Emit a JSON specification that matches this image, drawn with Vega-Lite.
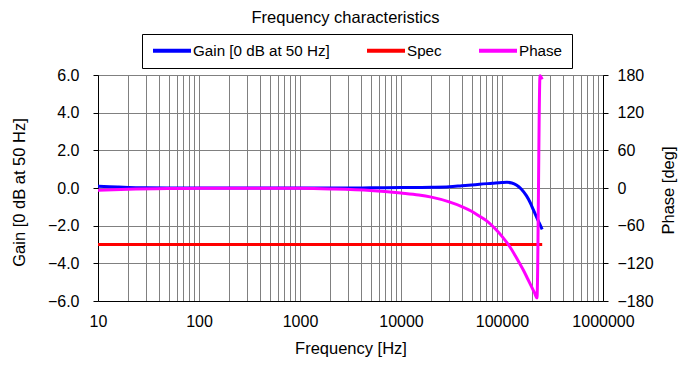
{
  "$schema": "https://vega.github.io/schema/vega-lite/v6.json",
  "width": 505,
  "height": 226,
  "autosize": {"type": "none"},
  "padding": {"left": 98, "top": 75, "right": 85, "bottom": 64},
  "background": "#ffffff",
  "title": {
    "text": "Frequency characteristics",
    "fontSize": 16.5,
    "fontWeight": "normal",
    "font": "Liberation Sans",
    "color": "#000000",
    "anchor": "middle",
    "baseline": "alphabetic",
    "offset": -6,
    "dx": -5
  },
  "data": {
    "values": [
      {"f": 10, "s": "Gain [0 dB at 50 Hz]", "v": 0.10},
      {"f": 13, "s": "Gain [0 dB at 50 Hz]", "v": 0.07},
      {"f": 16, "s": "Gain [0 dB at 50 Hz]", "v": 0.05},
      {"f": 20, "s": "Gain [0 dB at 50 Hz]", "v": 0.03},
      {"f": 30, "s": "Gain [0 dB at 50 Hz]", "v": 0.01},
      {"f": 50, "s": "Gain [0 dB at 50 Hz]", "v": 0.0},
      {"f": 100, "s": "Gain [0 dB at 50 Hz]", "v": 0.0},
      {"f": 300, "s": "Gain [0 dB at 50 Hz]", "v": 0.0},
      {"f": 1000, "s": "Gain [0 dB at 50 Hz]", "v": 0.0},
      {"f": 3000, "s": "Gain [0 dB at 50 Hz]", "v": 0.0},
      {"f": 5000, "s": "Gain [0 dB at 50 Hz]", "v": 0.01},
      {"f": 10000, "s": "Gain [0 dB at 50 Hz]", "v": 0.02},
      {"f": 20000, "s": "Gain [0 dB at 50 Hz]", "v": 0.04},
      {"f": 30000, "s": "Gain [0 dB at 50 Hz]", "v": 0.07},
      {"f": 40000, "s": "Gain [0 dB at 50 Hz]", "v": 0.12},
      {"f": 50000, "s": "Gain [0 dB at 50 Hz]", "v": 0.16},
      {"f": 60000, "s": "Gain [0 dB at 50 Hz]", "v": 0.20},
      {"f": 80000, "s": "Gain [0 dB at 50 Hz]", "v": 0.25},
      {"f": 100000, "s": "Gain [0 dB at 50 Hz]", "v": 0.29},
      {"f": 112000, "s": "Gain [0 dB at 50 Hz]", "v": 0.30},
      {"f": 125000, "s": "Gain [0 dB at 50 Hz]", "v": 0.27},
      {"f": 140000, "s": "Gain [0 dB at 50 Hz]", "v": 0.15},
      {"f": 155000, "s": "Gain [0 dB at 50 Hz]", "v": -0.05},
      {"f": 175000, "s": "Gain [0 dB at 50 Hz]", "v": -0.42},
      {"f": 190000, "s": "Gain [0 dB at 50 Hz]", "v": -0.77},
      {"f": 204000, "s": "Gain [0 dB at 50 Hz]", "v": -1.15},
      {"f": 220000, "s": "Gain [0 dB at 50 Hz]", "v": -1.55},
      {"f": 235000, "s": "Gain [0 dB at 50 Hz]", "v": -1.88},
      {"f": 250000, "s": "Gain [0 dB at 50 Hz]", "v": -2.2},
      {"f": 10, "s": "Spec", "v": -3},
      {"f": 250000, "s": "Spec", "v": -3},
      {"f": 10, "s": "Phase", "v": -3.5},
      {"f": 20, "s": "Phase", "v": -1.8},
      {"f": 50, "s": "Phase", "v": -0.8},
      {"f": 100, "s": "Phase", "v": -0.5},
      {"f": 200, "s": "Phase", "v": -0.3},
      {"f": 500, "s": "Phase", "v": -0.3},
      {"f": 1000, "s": "Phase", "v": -0.5},
      {"f": 2000, "s": "Phase", "v": -1.5},
      {"f": 5000, "s": "Phase", "v": -4},
      {"f": 10000, "s": "Phase", "v": -8},
      {"f": 15000, "s": "Phase", "v": -11},
      {"f": 20000, "s": "Phase", "v": -14.5},
      {"f": 30000, "s": "Phase", "v": -22},
      {"f": 40000, "s": "Phase", "v": -29.5},
      {"f": 50000, "s": "Phase", "v": -37},
      {"f": 60000, "s": "Phase", "v": -45},
      {"f": 70000, "s": "Phase", "v": -52},
      {"f": 88000, "s": "Phase", "v": -67},
      {"f": 100000, "s": "Phase", "v": -77},
      {"f": 120000, "s": "Phase", "v": -94},
      {"f": 140000, "s": "Phase", "v": -112},
      {"f": 163000, "s": "Phase", "v": -131},
      {"f": 180000, "s": "Phase", "v": -145},
      {"f": 197000, "s": "Phase", "v": -158},
      {"f": 210000, "s": "Phase", "v": -167},
      {"f": 222000, "s": "Phase", "v": -175},
      {"f": 238000, "s": "Phase", "v": 179},
      {"f": 250000, "s": "Phase", "v": 173}
    ]
  },
  "encoding": {
    "x": {
      "field": "f",
      "type": "quantitative",
      "scale": {"type": "log", "domain": [10, 1000000], "nice": false},
      "axis": {
        "title": "Frequency [Hz]",
        "values": [10, 20, 30, 40, 50, 60, 70, 80, 90,
                   100, 200, 300, 400, 500, 600, 700, 800, 900,
                   1000, 2000, 3000, 4000, 5000, 6000, 7000, 8000, 9000,
                   10000, 20000, 30000, 40000, 50000, 60000, 70000, 80000, 90000,
                   100000, 200000, 300000, 400000, 500000, 600000, 700000, 800000, 900000,
                   1000000],
        "labelExpr": "indexof([10, 100, 1000, 10000, 100000, 1000000], datum.value) >= 0 ? format(datum.value, 'd') : ''",
        "grid": true,
        "gridColor": "#000000",
        "gridDash": [1, 1],
        "gridWidth": 1,
        "ticks": false,
        "domainColor": "#000000",
        "labelPadding": 12,
        "labelFlush": false,
        "labelOverlap": false,
        "labelBound": false,
        "titleY": 52,
        "titleBaseline": "alphabetic"
      }
    }
  },
  "layer": [
    {
      "transform": [{"filter": "datum.s !== 'Phase'"}],
      "mark": {"type": "line", "strokeWidth": 3, "interpolate": "monotone"},
      "encoding": {
        "y": {
          "field": "v",
          "type": "quantitative",
          "scale": {"domain": [-6, 6], "nice": false, "zero": false},
          "axis": {
            "orient": "left",
            "title": "Gain [0 dB at 50 Hz]",
            "values": [-6, -4, -2, 0, 2, 4, 6],
            "format": ".1f",
            "grid": true,
            "gridColor": "#808080",
            "tickSize": 5,
            "tickColor": "#000000",
            "domainColor": "#000000",
            "labelPadding": 14,
            "titleAngle": -90,
            "titleAlign": "center",
            "titleBaseline": "alphabetic",
            "titleX": -73.5,
            "titleY": 117
          }
        },
        "color": {
          "field": "s",
          "type": "nominal",
          "scale": {
            "domain": ["Gain [0 dB at 50 Hz]", "Spec", "Phase"],
            "range": ["#0000ff", "#ff0000", "#ff00ff"]
          },
          "legend": {
            "orient": "none",
            "legendX": 44,
            "legendY": -41,
            "direction": "horizontal",
            "title": null,
            "symbolType": "stroke",
            "symbolSize": 1444,
            "symbolStrokeWidth": 4,
            "clipHeight": 15,
            "padding": 9,
            "columnPadding": 35,
            "labelOffset": 0,
            "labelFontSize": 15.2,
            "labelFont": "Liberation Sans",
            "labelColor": "#000000",
            "strokeColor": "#000000",
            "fillColor": "#ffffff"
          }
        }
      }
    },
    {
      "transform": [{"filter": "datum.s === 'Phase'"}],
      "mark": {"type": "line", "strokeWidth": 3, "interpolate": "monotone"},
      "encoding": {
        "y": {
          "field": "v",
          "type": "quantitative",
          "scale": {"domain": [-180, 180], "nice": false, "zero": false},
          "axis": {
            "orient": "right",
            "title": "Phase [deg]",
            "values": [-180, -120, -60, 0, 60, 120, 180],
            "format": "d",
            "grid": false,
            "tickSize": 5,
            "tickColor": "#000000",
            "domainColor": "#000000",
            "labelPadding": 9,
            "titleAngle": -90,
            "titleAlign": "center",
            "titleBaseline": "alphabetic",
            "titleX": 70,
            "titleY": 115
          }
        },
        "color": {"field": "s", "type": "nominal"}
      }
    }
  ],
  "resolve": {"scale": {"y": "independent"}},
  "config": {
    "font": "Liberation Sans",
    "view": {"stroke": null},
    "axis": {
      "labelFont": "Liberation Sans",
      "labelFontSize": 16,
      "labelColor": "#000000",
      "titleFont": "Liberation Sans",
      "titleFontSize": 16.5,
      "titleFontWeight": "normal",
      "titleColor": "#000000",
      "domainWidth": 1
    }
  }
}
